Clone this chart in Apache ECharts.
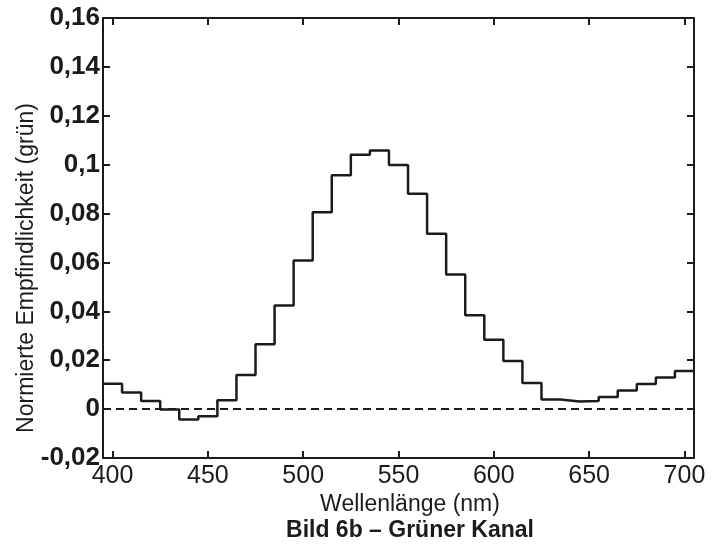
<!DOCTYPE html>
<html>
<head>
<meta charset="utf-8">
<script src="https://cdn.jsdelivr.net/npm/echarts@6/dist/echarts.min.js"></script>
<style>
  html, body { margin: 0; padding: 0; background: #fff; }
  #chart { width: 715px; height: 550px; }
</style>
</head>
<body>
<div id="chart"></div>
<script>
// Wellenlänge in nm (Mitte jeder 10-nm-Stufe)
const wavelengths = [400, 410, 420, 430, 440, 450, 460, 470, 480, 490, 500, 510, 520, 530, 540, 550,
  560, 570, 580, 590, 600, 610, 620, 630, 640, 650, 660, 670, 680, 690, 700]
// Normierte Empfindlichkeit (grün)
const sensitivity = [0.0104, 0.0068, 0.0033, -0.0002, -0.0042, -0.0029, 0.0036, 0.014, 0.0265, 0.0424,
  0.0608, 0.0805, 0.0957, 0.1041, 0.1058, 0.0999, 0.0881, 0.0717, 0.0551, 0.0384, 0.0284, 0.0197,
  0.0107, 0.0039, 0.0031, 0.0033, 0.005, 0.0076, 0.0103, 0.0129, 0.0156]
const xTicks = [400, 450, 500, 550, 600, 650, 700]

const INK = '#1b1b1b'
const FONT = '"Liberation Sans", Arial, Helvetica, sans-serif'

// Stufenkanten: jede Stufe reicht von Mitte - 5 bis Mitte + 5
const half = (wavelengths[1] - wavelengths[0]) / 2
const stepData = wavelengths.map((w, i) => [w - half, sensitivity[i]])
stepData.push([wavelengths[wavelengths.length - 1] + half, sensitivity[sensitivity.length - 1]])
const xMin = wavelengths[0] - half
const xMax = wavelengths[wavelengths.length - 1] + half

const fmtY = (v) => String(+v.toFixed(2)).replace('.', ',')

const chart = echarts.init(document.getElementById('chart'))

const baseX = {
  type: 'value',
  min: xMin,
  max: xMax,
  axisLine: { show: true, onZero: false, lineStyle: { color: INK, width: 2 } },
  axisTick: { show: true, inside: true, length: 7, lineStyle: { color: INK, width: 2 }, customValues: xTicks },
  splitLine: { show: false }
}
const baseY = {
  type: 'value',
  min: -0.02,
  max: 0.16,
  interval: 0.02,
  axisLine: { show: true, onZero: false, lineStyle: { color: INK, width: 2 } },
  axisTick: { show: true, inside: true, length: 7, lineStyle: { color: INK, width: 2 } },
  splitLine: { show: false }
}

const option = {
  animation: false,
  backgroundColor: '#fff',
  grid: { left: 103, right: 21, top: 18, bottom: 92 },
  graphic: [
    {
      type: 'text',
      x: 410,
      y: 505,
      style: {
        text: 'Wellenlänge (nm)',
        font: '23px ' + FONT,
        fill: INK,
        align: 'center',
        verticalAlign: 'middle'
      }
    },
    {
      type: 'text',
      x: 410,
      y: 531,
      style: {
        text: 'Bild 6b – Grüner Kanal',
        font: 'bold 23px ' + FONT,
        fill: INK,
        align: 'center',
        verticalAlign: 'middle'
      }
    },
    {
      type: 'text',
      x: 27,
      y: 268,
      rotation: Math.PI / 2,
      style: {
        text: 'Normierte Empfindlichkeit (grün)',
        font: '23px ' + FONT,
        fill: INK,
        align: 'center',
        verticalAlign: 'middle'
      }
    }
  ],
  xAxis: [
    {
      ...baseX,
      position: 'bottom',
      axisLabel: {
        show: true,
        customValues: xTicks,
        margin: 6,
        color: INK,
        fontFamily: FONT,
        fontSize: 25
      }
    },
    {
      ...baseX,
      position: 'top',
      axisLabel: { show: false }
    }
  ],
  yAxis: [
    {
      ...baseY,
      position: 'left',
      axisLabel: {
        show: true,
        margin: 3,
        color: INK,
        fontFamily: FONT,
        fontSize: 26,
        fontWeight: 'bold',
        formatter: fmtY
      }
    },
    {
      ...baseY,
      position: 'right',
      axisLabel: { show: false }
    }
  ],
  series: [
    {
      type: 'line',
      step: 'end',
      data: stepData,
      symbol: 'none',
      lineStyle: { color: INK, width: 2.5 },
      markLine: {
        silent: true,
        symbol: 'none',
        label: { show: false },
        lineStyle: { color: INK, width: 2, type: [8, 5] },
        data: [{ yAxis: 0 }]
      },
      z: 3
    }
  ]
}

chart.setOption(option)
</script>
</body>
</html>
